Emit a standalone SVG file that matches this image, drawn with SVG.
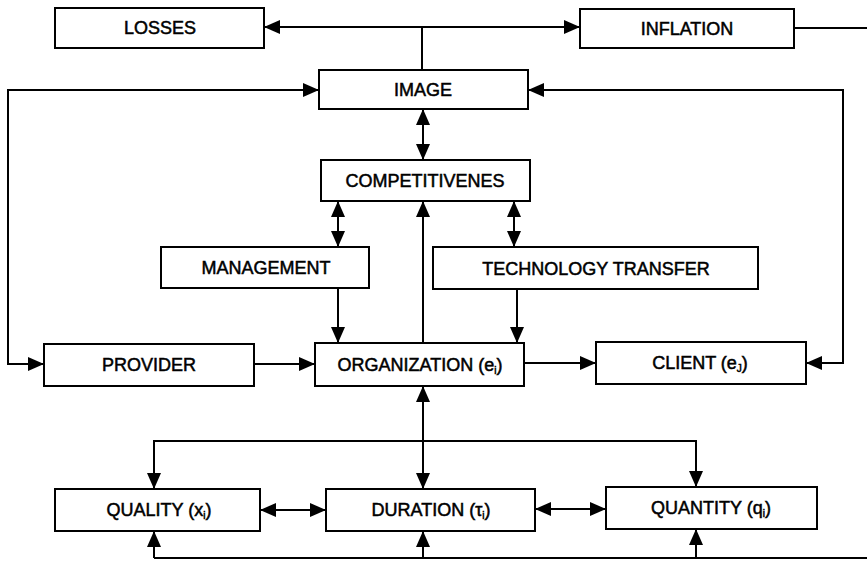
<svg xmlns="http://www.w3.org/2000/svg" width="867" height="563" viewBox="0 0 867 563">
<defs>
<marker id="ah" markerUnits="userSpaceOnUse" markerWidth="16" markerHeight="16" viewBox="0 0 16 16" refX="16" refY="8" orient="auto-start-reverse">
<path d="M0,1 L16,8 L0,15 z" fill="#000"/>
</marker>
<style>
.box{fill:#fff;stroke:#000;stroke-width:2}
.t{font-family:"Liberation Sans",Arial,sans-serif;font-size:18px;text-anchor:middle;fill:#000;stroke:#000;stroke-width:0.5}
.s{font-size:10px}
.c{fill:none;stroke:#000;stroke-width:2}
</style>
</defs>
<rect width="867" height="563" fill="#fff"/>
<g id="connectors">
<path class="c" d="M264,27 H580" marker-start="url(#ah)" marker-end="url(#ah)"/>
<path class="c" d="M422,27 V70"/>
<path class="c" d="M794,28 H867"/>
<path class="c" d="M319,90 H8 V364 H44" marker-start="url(#ah)" marker-end="url(#ah)"/>
<path class="c" d="M528,90 H843 V363 H806" marker-start="url(#ah)" marker-end="url(#ah)"/>
<path class="c" d="M423,109 V160" marker-start="url(#ah)" marker-end="url(#ah)"/>
<path class="c" d="M338,201 V247" marker-start="url(#ah)" marker-end="url(#ah)"/>
<path class="c" d="M514,201 V247" marker-start="url(#ah)" marker-end="url(#ah)"/>
<path class="c" d="M423,343 V201" marker-end="url(#ah)"/>
<path class="c" d="M338,288 V343" marker-end="url(#ah)"/>
<path class="c" d="M517,289 V343" marker-end="url(#ah)"/>
<path class="c" d="M254,364 H315" marker-end="url(#ah)"/>
<path class="c" d="M524,363 H596" marker-end="url(#ah)"/>
<path class="c" d="M423,386 V489" marker-start="url(#ah)" marker-end="url(#ah)"/>
<path class="c" d="M154,489 V441 H696 V487" marker-start="url(#ah)" marker-end="url(#ah)"/>
<path class="c" d="M260,510 H326" marker-start="url(#ah)" marker-end="url(#ah)"/>
<path class="c" d="M535,509 H606" marker-start="url(#ah)" marker-end="url(#ah)"/>
<path class="c" d="M154,558 H867"/>
<path class="c" d="M154,558 V531" marker-end="url(#ah)"/>
<path class="c" d="M423,558 V531" marker-end="url(#ah)"/>
<path class="c" d="M696,558 V529" marker-end="url(#ah)"/>
</g>
<g id="losses"><rect class="box" x="55" y="8" width="209" height="40"/><text class="t" x="160" y="34">LOSSES</text></g>
<g id="inflation"><rect class="box" x="580" y="9" width="214" height="39"/><text class="t" x="687" y="35">INFLATION</text></g>
<g id="image"><rect class="box" x="319" y="70" width="209" height="39"/><text class="t" x="423" y="96">IMAGE</text></g>
<g id="competitivenes"><rect class="box" x="321" y="160" width="209" height="41"/><text class="t" x="425" y="187">COMPETITIVENES</text></g>
<g id="management"><rect class="box" x="161" y="247" width="208" height="41"/><text class="t" x="266" y="274">MANAGEMENT</text></g>
<g id="technology-transfer"><rect class="box" x="433" y="247" width="325" height="42"/><text class="t" x="596" y="275">TECHNOLOGY TRANSFER</text></g>
<g id="provider"><rect class="box" x="44" y="344" width="210" height="42"/><text class="t" x="149" y="371">PROVIDER</text></g>
<g id="organization"><rect class="box" x="315" y="343" width="209" height="43"/><text class="t" x="420" y="371">ORGANIZATION (e<tspan class="s" dy="3">i</tspan><tspan dy="-3">)</tspan></text></g>
<g id="client"><rect class="box" x="596" y="342" width="210" height="42"/><text class="t" x="700" y="369">CLIENT (e<tspan class="s" dy="3">J</tspan><tspan dy="-3">)</tspan></text></g>
<g id="quality"><rect class="box" x="55" y="489" width="205" height="42"/><text class="t" x="159" y="516">QUALITY (x<tspan class="s" dy="3">i</tspan><tspan dy="-3">)</tspan></text></g>
<g id="duration"><rect class="box" x="326" y="489" width="209" height="42"/><text class="t" x="431" y="516">DURATION (τ<tspan class="s" dy="3">i</tspan><tspan dy="-3">)</tspan></text></g>
<g id="quantity"><rect class="box" x="606" y="487" width="211" height="42"/><text class="t" x="711" y="514">QUANTITY (q<tspan class="s" dy="3">i</tspan><tspan dy="-3">)</tspan></text></g>
</svg>
